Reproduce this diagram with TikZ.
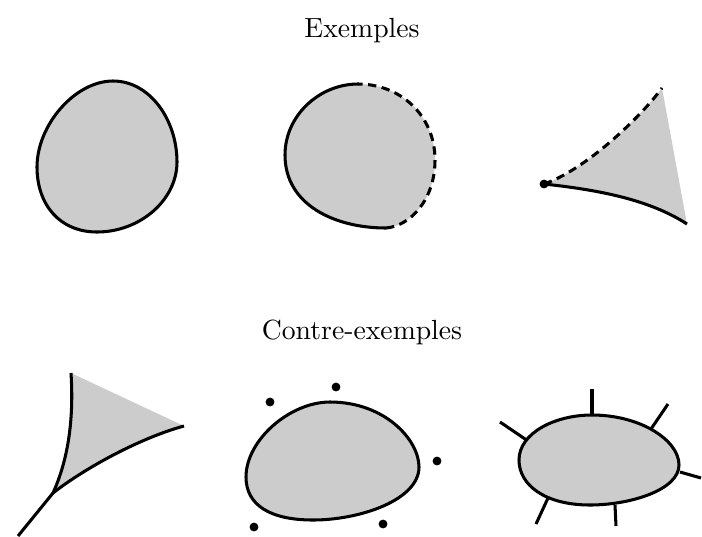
\documentclass[tikz,border=0pt]{standalone}
\begin{document}
\begin{tikzpicture}[x=0.361pt,y=-0.361pt,
  edge/.style={line width=1.1pt, line join=round},
  region/.style={fill=black!20},
  dashedge/.style={line width=1.1pt, dash pattern=on 3pt off 2pt},
  dotmark/.style={fill=black},
  title/.style={font=\fontsize{10}{12}\selectfont, anchor=base, inner sep=0pt}]
\useasboundingbox (0,0) rectangle (702,536);

\node[title] (t1) at (362,37) {Exemples};
\node[title] (t2) at (362,339) {Contre-exemples};

% Example 1
\draw[edge, region] (113,81) .. controls (150,81) and (177,120) .. (177,162)
  .. controls (177,200) and (140,232) .. (97,232)
  .. controls (60,232) and (37,205) .. (37,167)
  .. controls (37,125) and (75,81) .. (113,81) -- cycle;

% Example 2
\fill[region] (358,84) .. controls (320,84) and (285,115) .. (285,155)
  .. controls (285,205) and (335,228) .. (386,228)
  .. controls (410,226) and (435,200) .. (435,160)
  .. controls (435,115) and (400,84) .. (358,84) -- cycle;
\draw[edge] (358,84) .. controls (320,84) and (285,115) .. (285,155)
  .. controls (285,205) and (335,228) .. (386,228);
\draw[dashedge] (386,228) .. controls (410,226) and (435,200) .. (435,160)
  .. controls (435,115) and (400,84) .. (358,84);

% Example 3
\coordinate (p3) at (544,184);
\coordinate (t3) at (662,88);
\coordinate (r3) at (687,224);
\fill[region] (p3) .. controls (585,170) and (640,118) .. (t3) -- (r3)
  .. controls (650,200) and (600,190) .. (p3) -- cycle;
\draw[dashedge] (p3) .. controls (585,170) and (640,118) .. (t3);
\draw[edge] (p3) .. controls (600,190) and (650,200) .. (r3);
\fill[dotmark] (p3) circle[radius=1.6pt];

% Counter-example 1
\coordinate (a4) at (71,373);
\coordinate (j4) at (53,493);
\coordinate (b4) at (184,426);
\coordinate (e4) at (18,536);
\fill[region] (a4) .. controls (74,420) and (68,460) .. (j4)
  .. controls (85,468) and (140,438) .. (b4) -- cycle;
\draw[edge] (a4) .. controls (74,420) and (68,460) .. (j4);
\draw[edge] (j4) .. controls (85,468) and (140,438) .. (b4);
\draw[edge] (j4) -- (e4);

% Counter-example 2
\draw[edge, region] (330,402) .. controls (385,402) and (419,440) .. (419,467)
  .. controls (419,500) and (360,520) .. (313,520)
  .. controls (270,520) and (246,505) .. (246,477)
  .. controls (246,440) and (290,402) .. (330,402) -- cycle;
\foreach \p in {(270,402),(336,387),(437,461),(383,524),(254,527)}
  \fill[dotmark] \p circle[radius=1.6pt];

% Counter-example 3
\draw[edge] (592,389) -- (592,415);
\draw[edge] (668,404) -- (651,429);
\draw[edge] (701,478) -- (680,472);
\draw[edge] (616,526) -- (615,505);
\draw[edge] (536,524) -- (548,498);
\draw[edge] (500,422) -- (528,441);
\draw[edge, region] (592,415) .. controls (640,415) and (679,440) .. (679,465)
  .. controls (679,490) and (630,505) .. (590,505)
  .. controls (545,505) and (519,485) .. (519,460)
  .. controls (519,433) and (555,415) .. (592,415) -- cycle;
\end{tikzpicture}
\end{document}
